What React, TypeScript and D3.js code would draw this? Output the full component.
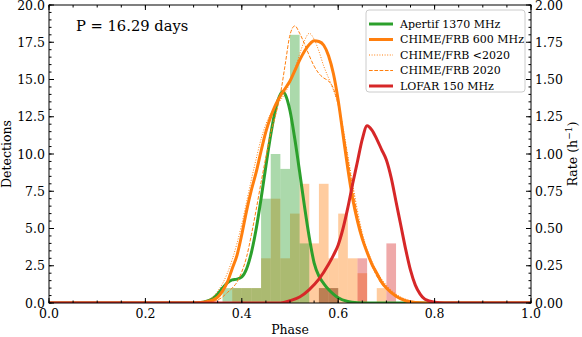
import React from 'react';
import * as d3 from 'd3';

// histogram bins (left edge, width 0.02 in phase)
const binStarts = [0.36, 0.38, 0.40, 0.42, 0.44, 0.46, 0.48, 0.50, 0.52, 0.54, 0.56, 0.58, 0.60, 0.62, 0.64, 0.66, 0.68, 0.70];
const binWidth = 0.02;
const apertifCounts = [1, 1, 1, 1, 7, 10, 9, 18, 4, 0, 1, 1, 0, 0, 0, 0, 0, 0];
const chimeCounts = [0, 1, 1, 1, 3, 7, 3, 6, 8, 4, 8, 3, 6, 3, 2, 0, 1, 0];
const lofarCounts = [0, 0, 0, 0, 0, 0, 0, 0, 0, 0, 1, 1, 0, 0, 3, 0, 0, 4];

// rate curves (h^-1)
const apertifPhase = [0, 0.30, 0.32, 0.34, 0.35, 0.36, 0.37, 0.38, 0.39, 0.40, 0.41, 0.42, 0.43, 0.44, 0.45, 0.46, 0.47, 0.48, 0.485, 0.49, 0.50, 0.51, 0.52, 0.53, 0.54, 0.55, 0.56, 0.57, 0.58, 0.59, 0.60, 0.62, 0.64, 0.66, 1.0];
const apertifRate = [0, 0, 0.005, 0.03, 0.06, 0.10, 0.135, 0.155, 0.16, 0.175, 0.23, 0.34, 0.50, 0.70, 0.92, 1.13, 1.30, 1.40, 1.42, 1.40, 1.29, 1.10, 0.88, 0.65, 0.44, 0.27, 0.18, 0.13, 0.09, 0.06, 0.035, 0.01, 0.002, 0, 0];

const chimePhase = [0, 0.30, 0.32, 0.34, 0.35, 0.36, 0.37, 0.38, 0.39, 0.40, 0.41, 0.42, 0.43, 0.44, 0.45, 0.46, 0.47, 0.48, 0.49, 0.50, 0.51, 0.52, 0.53, 0.54, 0.55, 0.56, 0.57, 0.58, 0.59, 0.60, 0.61, 0.62, 0.63, 0.64, 0.65, 0.66, 0.67, 0.68, 0.69, 0.70, 0.72, 0.74, 0.76, 0.78, 1.0];
const chimeRate = [0, 0, 0.005, 0.02, 0.04, 0.08, 0.14, 0.23, 0.32, 0.46, 0.62, 0.76, 0.88, 1.02, 1.15, 1.25, 1.33, 1.39, 1.44, 1.49, 1.56, 1.63, 1.69, 1.735, 1.76, 1.755, 1.73, 1.66, 1.54, 1.36, 1.13, 0.90, 0.70, 0.55, 0.43, 0.34, 0.26, 0.20, 0.14, 0.10, 0.045, 0.015, 0.003, 0, 0];
const chimeOldRate = [0, 0, 0.01, 0.04, 0.08, 0.13, 0.20, 0.29, 0.40, 0.53, 0.68, 0.83, 0.97, 1.10, 1.20, 1.27, 1.32, 1.36, 1.41, 1.48, 1.57, 1.67, 1.76, 1.81, 1.77, 1.69, 1.59, 1.51, 1.43, 1.33, 1.18, 0.99, 0.80, 0.62, 0.47, 0.36, 0.28, 0.21, 0.16, 0.12, 0.06, 0.025, 0.008, 0.002, 0];
const chimeNewRate = [0, 0, 0, 0.01, 0.02, 0.04, 0.07, 0.10, 0.14, 0.21, 0.31, 0.46, 0.63, 0.81, 0.98, 1.14, 1.26, 1.40, 1.60, 1.80, 1.86, 1.81, 1.74, 1.66, 1.59, 1.54, 1.51, 1.49, 1.44, 1.33, 1.16, 0.97, 0.77, 0.59, 0.45, 0.34, 0.25, 0.18, 0.13, 0.095, 0.045, 0.018, 0.005, 0, 0];

const lofarPhase = [0, 0.48, 0.50, 0.52, 0.54, 0.56, 0.58, 0.59, 0.60, 0.61, 0.62, 0.63, 0.64, 0.65, 0.66, 0.67, 0.68, 0.69, 0.70, 0.71, 0.72, 0.73, 0.74, 0.75, 0.76, 0.77, 0.78, 0.80, 0.82, 1.0];
const lofarRate = [0, 0, 0.015, 0.04, 0.09, 0.16, 0.26, 0.32, 0.39, 0.50, 0.64, 0.80, 0.95, 1.10, 1.19, 1.16, 1.10, 1.03, 0.96, 0.84, 0.68, 0.52, 0.36, 0.22, 0.12, 0.06, 0.025, 0.005, 0, 0];

const xTicks = [0, 0.2, 0.4, 0.6, 0.8, 1.0];
const leftTicks = [0, 2.5, 5, 7.5, 10, 12.5, 15, 17.5, 20];
const rightTicks = [0, 0.25, 0.5, 0.75, 1.0, 1.25, 1.5, 1.75, 2.0];

const GREEN = '#2ca02c';
const ORANGE = '#ff7f0e';
const RED = '#d62728';

const W = 582, H = 337;
const m = { top: 5, right: 51, bottom: 34, left: 49 };
const iw = W - m.left - m.right;
const ih = H - m.top - m.bottom;
const font = 'DejaVu Serif, serif';

export default function App() {
  const x = d3.scaleLinear().domain([0, 1]).range([0, iw]);
  const yL = d3.scaleLinear().domain([0, 20]).range([ih, 0]);
  const yR = d3.scaleLinear().domain([0, 2]).range([ih, 0]);

  const line = d3.line<[number, number]>()
    .x(d => x(d[0]))
    .y(d => yR(d[1]))
    .curve(d3.curveMonotoneX);

  const zip = (a: number[], b: number[]) => a.map((p, i) => [p, b[i]] as [number, number]);

  const hist = (counts: number[], color: string) =>
    binStarts.map((s, i) => counts[i] > 0 ? (
      <rect key={color + i} x={x(s)} width={x(s + binWidth) - x(s)} y={yL(counts[i])}
        height={ih - yL(counts[i])} fill={color} fillOpacity={0.4} />
    ) : null);

  const xMinor = d3.range(0, 1.0001, 0.05);
  const lMinor = d3.range(0, 20.001, 0.5);
  const rMinor = d3.range(0, 2.0001, 0.05);

  const legend = [
    { label: 'Apertif 1370 MHz', color: GREEN, w: 3, dash: undefined },
    { label: 'CHIME/FRB 600 MHz', color: ORANGE, w: 3, dash: undefined },
    { label: 'CHIME/FRB <2020', color: ORANGE, w: 1, dash: '1,1.6' },
    { label: 'CHIME/FRB 2020', color: ORANGE, w: 1, dash: '3.7,1.6' },
    { label: 'LOFAR 150 MHz', color: RED, w: 3, dash: undefined },
  ];

  return (
    <svg width={W} height={H} style={{ position: 'absolute', left: 0, top: 0, background: '#fff' }}
      fontFamily={font}>
      <defs>
        <clipPath id="plotclip">
          <rect x={0} y={0} width={iw} height={ih} />
        </clipPath>
      </defs>
      <g transform={`translate(${m.left},${m.top})`}>
        <g clipPath="url(#plotclip)">
          {hist(chimeCounts, ORANGE)}
          {hist(apertifCounts, GREEN)}
          {hist(lofarCounts, RED)}
          <path d={line(zip(apertifPhase, apertifRate)) || ''} fill="none" stroke={GREEN} strokeWidth={3} />
          <path d={line(zip(chimePhase, chimeRate)) || ''} fill="none" stroke={ORANGE} strokeWidth={3} />
          <path d={line(zip(chimePhase, chimeOldRate)) || ''} fill="none" stroke={ORANGE} strokeWidth={1} strokeDasharray="1,1.6" />
          <path d={line(zip(chimePhase, chimeNewRate)) || ''} fill="none" stroke={ORANGE} strokeWidth={1} strokeDasharray="3.7,1.6" />
          <path d={line(zip(lofarPhase, lofarRate)) || ''} fill="none" stroke={RED} strokeWidth={3} />
        </g>

        {/* frame */}
        <rect x={0} y={0} width={iw} height={ih} fill="none" stroke="#000" strokeWidth={1} />

        {/* bottom / top ticks */}
        {xMinor.map((t, i) => (
          <g key={'xm' + i}>
            <line x1={x(t)} x2={x(t)} y1={ih} y2={ih - 2.5} stroke="#000" />
            <line x1={x(t)} x2={x(t)} y1={0} y2={2.5} stroke="#000" />
          </g>
        ))}
        {xTicks.map(t => (
          <g key={'x' + t}>
            <line x1={x(t)} x2={x(t)} y1={ih} y2={ih - 5} stroke="#000" />
            <line x1={x(t)} x2={x(t)} y1={0} y2={5} stroke="#000" />
            <text x={x(t)} y={ih + 15} textAnchor="middle" fontSize={12.5}>{t.toFixed(1)}</text>
          </g>
        ))}

        {/* left axis */}
        {lMinor.map((t, i) => (
          <line key={'lm' + i} x1={0} x2={2.5} y1={yL(t)} y2={yL(t)} stroke="#000" />
        ))}
        {leftTicks.map(t => (
          <g key={'l' + t}>
            <line x1={0} x2={5} y1={yL(t)} y2={yL(t)} stroke="#000" />
            <text x={-4} y={yL(t)} dy="0.36em" textAnchor="end" fontSize={12.5}>{t.toFixed(1)}</text>
          </g>
        ))}

        {/* right axis */}
        {rMinor.map((t, i) => (
          <line key={'rm' + i} x1={iw} x2={iw - 2.5} y1={yR(t)} y2={yR(t)} stroke="#000" />
        ))}
        {rightTicks.map(t => (
          <g key={'r' + t}>
            <line x1={iw} x2={iw - 5} y1={yR(t)} y2={yR(t)} stroke="#000" />
            <text x={iw + 4} y={yR(t)} dy="0.36em" textAnchor="start" fontSize={12.5}>{t.toFixed(2)}</text>
          </g>
        ))}

        {/* axis labels */}
        <text x={iw / 2} y={ih + 31} textAnchor="middle" fontSize={12.5}>Phase</text>
        <text transform={`translate(${-38},${ih / 2}) rotate(-90)`} textAnchor="middle" fontSize={12.5}>Detections</text>
        <text transform={`translate(${iw + 46},${ih / 2}) rotate(-90)`} textAnchor="middle" fontSize={12.5}>
          Rate (h<tspan dy="-5" fontSize={9}>−1</tspan><tspan dy="5">)</tspan>
        </text>

        <text x={27} y={26} fontSize={14.7}>P = 16.29 days</text>

        {/* legend */}
        <g transform={`translate(${317},${5})`}>
          <rect x={0} y={0} width={159} height={82} rx={3} fill="#fff" fillOpacity={0.8} stroke="#ccc" strokeWidth={1} />
          {legend.map((e, i) => (
            <g key={e.label} transform={`translate(0,${14 + i * 15.5})`}>
              <line x1={3} x2={27} y1={0} y2={0} stroke={e.color} strokeWidth={e.w} strokeDasharray={e.dash} />
              <text x={34} y={0} dy="0.36em" fontSize={11}>{e.label}</text>
            </g>
          ))}
        </g>
      </g>
    </svg>
  );
}
